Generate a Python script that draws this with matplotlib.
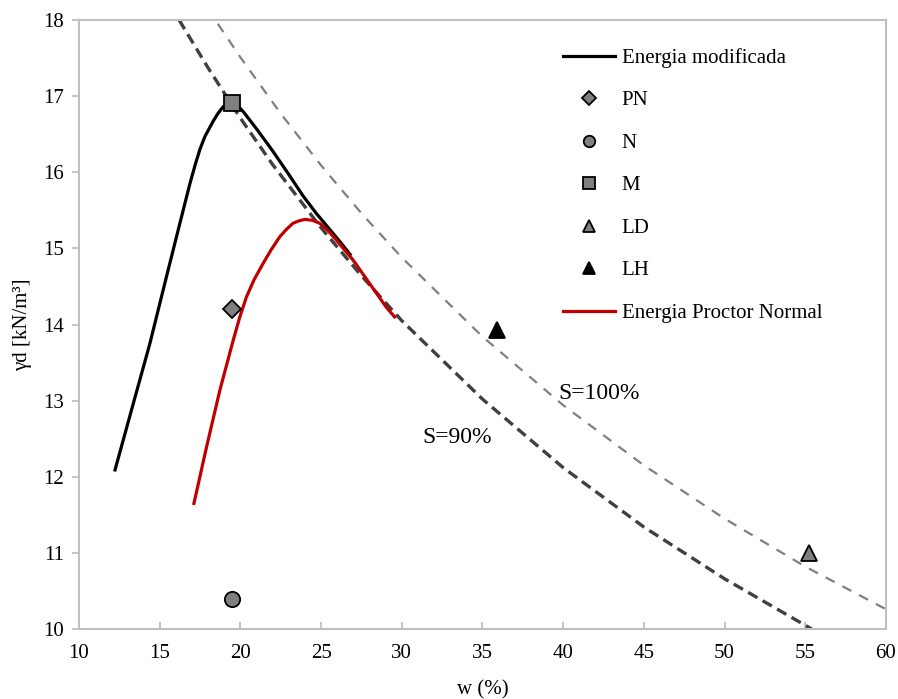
import matplotlib
matplotlib.use('Agg')
import matplotlib.pyplot as plt

plt.rcParams['font.family'] = ['Liberation Serif', 'DejaVu Serif']

# curva de compactacao - energia modificada
w_mod = [12.23, 13.36, 14.39, 15.42, 16.25, 16.87, 17.2, 17.49, 17.8, 18.31, 18.6, 18.93, 19.2, 19.49,
         19.85, 20.2, 21.0, 22.0, 23.0, 23.88, 24.7, 25.53, 26.2, 26.8]
g_mod = [12.09, 12.96, 13.75, 14.63, 15.33, 15.85, 16.10, 16.30, 16.47, 16.67, 16.77, 16.86, 16.90, 16.91,
         16.87, 16.79, 16.57, 16.28, 15.97, 15.69, 15.46, 15.25, 15.08, 14.92]

# curva de compactacao - proctor normal
w_pn = [17.12, 17.49, 17.9, 18.73, 19.55, 19.95, 20.37, 20.85, 21.4, 21.9, 22.43, 22.85, 23.26, 23.6, 23.98,
        24.45, 24.91, 25.4, 25.94, 26.45, 26.97, 28.0, 29.03, 29.55]
g_pn = [11.65, 12.00, 12.39, 13.14, 13.79, 14.09, 14.36, 14.59, 14.80, 14.98, 15.15, 15.25, 15.33, 15.36, 15.38,
        15.37, 15.33, 15.24, 15.11, 14.98, 14.85, 14.54, 14.23, 14.10]

# curvas de saturacao
w_s90 = [16.2, 18.0, 20.0, 22.0, 25.0, 27.5, 30.0, 35.0, 40.0, 45.0, 50.0, 55.4]
g_s90 = [18.00, 17.37, 16.71, 16.10, 15.27, 14.64, 14.05, 13.02, 12.12, 11.34, 10.66, 10.00]
w_s100 = [18.6, 20.0, 22.5, 25.0, 27.5, 30.0, 35.0, 40.0, 45.0, 50.0, 55.0, 60.0]
g_s100 = [17.95, 17.51, 16.77, 16.09, 15.46, 14.88, 13.84, 12.94, 12.15, 11.45, 10.82, 10.26]

# pontos
pontos = ['PN', 'N', 'M', 'LD', 'LH']
w_pts = [19.5, 19.5, 19.5, 55.2, 35.9]
g_pts = [14.2, 10.4, 16.91, 11.0, 13.93]
estilo = {'PN': ('D', '#7f7f7f', 9),
          'N': ('o', '#7f7f7f', 11),
          'M': ('s', '#7f7f7f', 11),
          'LD': ('^', '#7f7f7f', 12),
          'LH': ('^', 'black', 12)}

fig = plt.figure(figsize=(8.98, 6.99), dpi=100)
ax = fig.add_axes([0.088, 0.1001, 0.8986, 0.8713])

ax.plot(w_s90, g_s90, color='#404040', lw=2.4, dashes=(3.2, 1.8), zorder=2)
ax.plot(w_s100, g_s100, color='#808080', lw=1.6, dashes=(4.5, 4), zorder=2)

h_mod, = ax.plot(w_mod, g_mod, color='black', lw=2.3, label='Energia modificada', zorder=3,
                 solid_joinstyle='round')
hs = []
for nome, x, y in zip(pontos, w_pts, g_pts):
    m, c, s = estilo[nome]
    h, = ax.plot([x], [y], ls='none', marker=m, ms=s, mfc=c, mec='black', mew=1.3, label=nome, zorder=5)
    hs.append(h)
h_pn, = ax.plot(w_pn, g_pn, color='#c00000', lw=2.3, label='Energia Proctor Normal', zorder=4,
                solid_joinstyle='round')

ax.text(42.2, 13.1, 'S=100%', fontsize=17, ha='center', va='center')
ax.text(33.45, 12.52, 'S=90%', fontsize=17, ha='center', va='center')

ax.set_xlim(10, 60)
ax.set_ylim(10, 18)
ax.set_xticks(range(10, 61, 5))
ax.set_yticks(range(10, 19))
ax.tick_params(axis='x', direction='in', length=5, color='#bfbfbf', width=1.3, labelsize=15, pad=11)
ax.tick_params(axis='y', direction='out', length=5, color='#bfbfbf', width=1.3, labelsize=15, pad=6)
for sp in ax.spines.values():
    sp.set_color('#bfbfbf')
    sp.set_linewidth(1.5)

ax.set_xlabel('w (%)', fontsize=15, labelpad=12)
ax.set_ylabel('γd [kN/m³]', fontsize=15, labelpad=8)

leg = ax.legend(handles=[h_mod] + hs + [h_pn], loc='upper left', bbox_to_anchor=(0.6, 0.954),
                frameon=False, fontsize=15, labelspacing=1.1, handlelength=2.5,
                handletextpad=0.3, borderaxespad=0, borderpad=0, markerscale=0.75)

fig.savefig('out.png', dpi=100)
